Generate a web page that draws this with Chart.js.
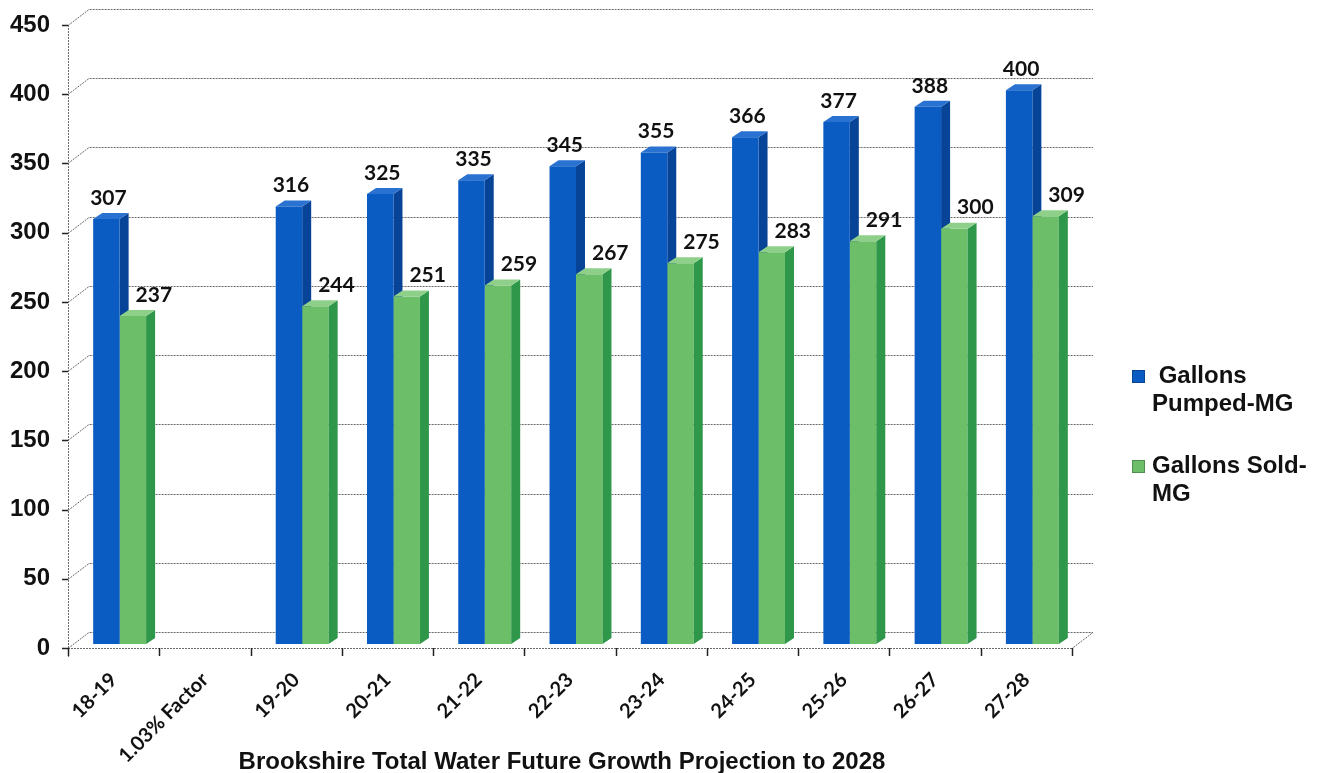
<!DOCTYPE html>
<html>
<head>
<meta charset="utf-8">
<title>Brookshire Total Water Future Growth Projection to 2028</title>
<script src="https://cdn.jsdelivr.net/npm/chart.js@4.4.1/dist/chart.umd.min.js"></script>
<style>
  html, body { margin: 0; padding: 0; background: #fff; }
  #chart-wrap { width: 1320px; height: 773px; }
</style>
</head>
<body>
<div id="chart-wrap"><canvas id="water-chart" width="1320" height="773"></canvas></div>
<script>
// fiscal years (plus the growth-factor gap column)
const fiscalYears = ["18-19", "1.03% Factor", "19-20", "20-21", "21-22", "22-23",
  "23-24", "24-25", "25-26", "26-27", "27-28"];
// millions of gallons
const gallonsPumped = [307, null, 316, 325, 335, 345, 355, 366, 377, 388, 400];
const gallonsSold = [237, null, 244, 251, 259, 267, 275, 283, 291, 300, 309];
const yTicks = [0, 50, 100, 150, 200, 250, 300, 350, 400, 450];
const pumpedLegend = [" Gallons", "Pumped-MG"];
const soldLegend = ["Gallons Sold-", "MG"];
const chartTitle = "Brookshire Total Water Future Growth Projection to 2028";

// fake 3d: back wall offset, bar depth, bar position inside the floor
const WALL_DX = 21;
const WALL_DY = -16;
const BAR_SHIFT_X = 6;
const BAR_SHIFT_Y = -4;
const BAR_DX = 9;
const BAR_DY = -6;

const BLUE = { front: "#0a5cc2", side: "#074396", top: "#2a72d2" };
const GREEN = { front: "#6cbe69", side: "#2e974a", top: "#8ed08a" };

const LABEL_FONT = "bold 21px Lato";
const AXIS_FONT = "bold 24px 'Liberation Sans'";

function drawBarFaces(ctx, chart, index, colors) {
  const values = chart.data.datasets[index].data;
  chart.getDatasetMeta(index).data.forEach((bar, i) => {
    if (values[i] === null) return;
    const { x, y, base, width } = bar.getProps(["x", "y", "base", "width"], true);
    const l = x - width / 2;
    const r = x + width / 2;
    ctx.fillStyle = colors.side;
    ctx.beginPath();
    ctx.moveTo(r, y);
    ctx.lineTo(r + BAR_DX, y + BAR_DY);
    ctx.lineTo(r + BAR_DX, base + BAR_DY);
    ctx.lineTo(r, base);
    ctx.closePath();
    ctx.fill();
    ctx.fillStyle = colors.top;
    ctx.beginPath();
    ctx.moveTo(l, y);
    ctx.lineTo(l + BAR_DX, y + BAR_DY);
    ctx.lineTo(r + BAR_DX, y + BAR_DY);
    ctx.lineTo(r, y);
    ctx.closePath();
    ctx.fill();
  });
}

function drawValueLabels(ctx, chart, index, dx) {
  const values = chart.data.datasets[index].data;
  const meta = chart.getDatasetMeta(index);
  ctx.font = LABEL_FONT;
  ctx.fillStyle = "#111";
  ctx.textAlign = "center";
  ctx.textBaseline = "middle";
  meta.data.forEach((bar, i) => {
    if (values[i] === null) return;
    ctx.fillText(String(values[i]), bar.x + dx, bar.y - 21);
  });
}

const depthPlugin = {
  id: "depthFrame",
  beforeDatasetsDraw(chart) {
    const { ctx, chartArea, scales } = chart;
    const { left, right, top, bottom } = chartArea;
    const n = fiscalYears.length;

    ctx.save();
    ctx.strokeStyle = "#6a6a6a";
    ctx.lineWidth = 1;
    ctx.setLineDash([2, 1]);
    scales.y.ticks.forEach((t) => {
      const py = Math.round(scales.y.getPixelForValue(t.value)) + 0.5;
      ctx.beginPath();
      ctx.moveTo(left, py);
      ctx.lineTo(left + WALL_DX, py + WALL_DY);
      ctx.lineTo(right + WALL_DX, py + WALL_DY);
      if (t.value === 0) ctx.lineTo(right, py);
      ctx.stroke();
    });
    ctx.beginPath();
    ctx.moveTo(left, bottom + 0.5);
    ctx.lineTo(right, bottom + 0.5);
    ctx.stroke();
    ctx.beginPath();
    ctx.moveTo(left + 0.5, top);
    ctx.lineTo(left + 0.5, bottom + 9);
    ctx.stroke();

    // tick marks
    ctx.setLineDash([]);
    ctx.strokeStyle = "#222";
    ctx.lineWidth = 1.5;
    scales.y.ticks.forEach((t) => {
      const py = Math.round(scales.y.getPixelForValue(t.value)) + 0.5;
      ctx.beginPath();
      ctx.moveTo(left - 6, py);
      ctx.lineTo(left, py);
      ctx.stroke();
    });
    for (let i = 0; i <= n; i++) {
      const px = Math.round(left + (i * (right - left)) / n) + 0.5;
      ctx.beginPath();
      ctx.moveTo(px, bottom);
      ctx.lineTo(px, bottom + 8);
      ctx.stroke();
    }
    ctx.restore();

    // bars sit a little inside the floor; stays translated until afterDatasetsDraw
    ctx.save();
    ctx.translate(BAR_SHIFT_X, BAR_SHIFT_Y);
    drawBarFaces(ctx, chart, 0, BLUE);
  },
  afterDatasetsDraw(chart) {
    const { ctx } = chart;
    drawBarFaces(ctx, chart, 1, GREEN);
    drawValueLabels(ctx, chart, 0, 2);
    drawValueLabels(ctx, chart, 1, 21);
    ctx.restore();
  },
  afterDraw(chart) {
    const { ctx } = chart;
    ctx.save();
    ctx.font = AXIS_FONT;
    ctx.fillStyle = "#111";
    ctx.textBaseline = "alphabetic";

    // legend
    const entries = [
      { lines: pumpedLegend, color: BLUE.front, y: 383 },
      { lines: soldLegend, color: GREEN.front, y: 473 },
    ];
    entries.forEach((e) => {
      ctx.fillStyle = e.color;
      ctx.fillRect(1132, e.y - 13, 13, 13);
      ctx.strokeStyle = "rgba(0,0,0,0.25)";
      ctx.lineWidth = 1;
      ctx.strokeRect(1132.5, e.y - 12.5, 12, 12);
      ctx.fillStyle = "#111";
      ctx.textAlign = "left";
      e.lines.forEach((line, i) => {
        ctx.fillText(line, 1152, e.y + i * 28);
      });
    });

    // axis title
    ctx.textAlign = "center";
    ctx.fillText(chartTitle, 562, 769);
    ctx.restore();
  },
};

const ctx = document.getElementById("water-chart").getContext("2d");
const waterChart = new Chart(ctx, {
  type: "bar",
  data: {
    labels: fiscalYears,
    datasets: [
      {
        label: "Gallons Pumped-MG",
        data: gallonsPumped,
        backgroundColor: BLUE.front,
        borderWidth: 0,
      },
      {
        label: "Gallons Sold-MG",
        data: gallonsSold,
        backgroundColor: GREEN.front,
        borderWidth: 0,
      },
    ],
  },
  options: {
    responsive: false,
    animation: false,
    devicePixelRatio: 1,
    layout: {
      padding: { left: 0, top: 25, right: 248, bottom: 0 },
    },
    datasets: {
      bar: {
        categoryPercentage: 0.58,
        barPercentage: 1.0,
        clip: false,
      },
    },
    plugins: {
      legend: { display: false },
      tooltip: { enabled: false },
      title: { display: false },
    },
    scales: {
      x: {
        grid: { display: false, drawTicks: false },
        border: { display: false },
        ticks: {
          color: "#111",
          font: { family: "Lato", size: 20, weight: "bold" },
          minRotation: 45,
          maxRotation: 45,
          padding: 20,
          autoSkip: false,
        },
        afterFit(scale) {
          scale.height = 125;
          scale.paddingLeft = 0;
          scale.paddingRight = 0;
        },
      },
      y: {
        min: yTicks[0],
        max: yTicks[yTicks.length - 1],
        grid: { display: false, drawTicks: false },
        border: { display: false },
        ticks: {
          stepSize: yTicks[1] - yTicks[0],
          color: "#111",
          font: { family: "Liberation Sans", size: 24, weight: "bold" },
          padding: 18,
        },
        afterBuildTicks(scale) {
          scale.ticks = yTicks.map((v) => ({ value: v }));
        },
        afterFit(scale) {
          scale.width = 68;
          scale.paddingTop = 0;
          scale.paddingBottom = 0;
        },
      },
    },
  },
  plugins: [depthPlugin],
});
</script>
</body>
</html>
